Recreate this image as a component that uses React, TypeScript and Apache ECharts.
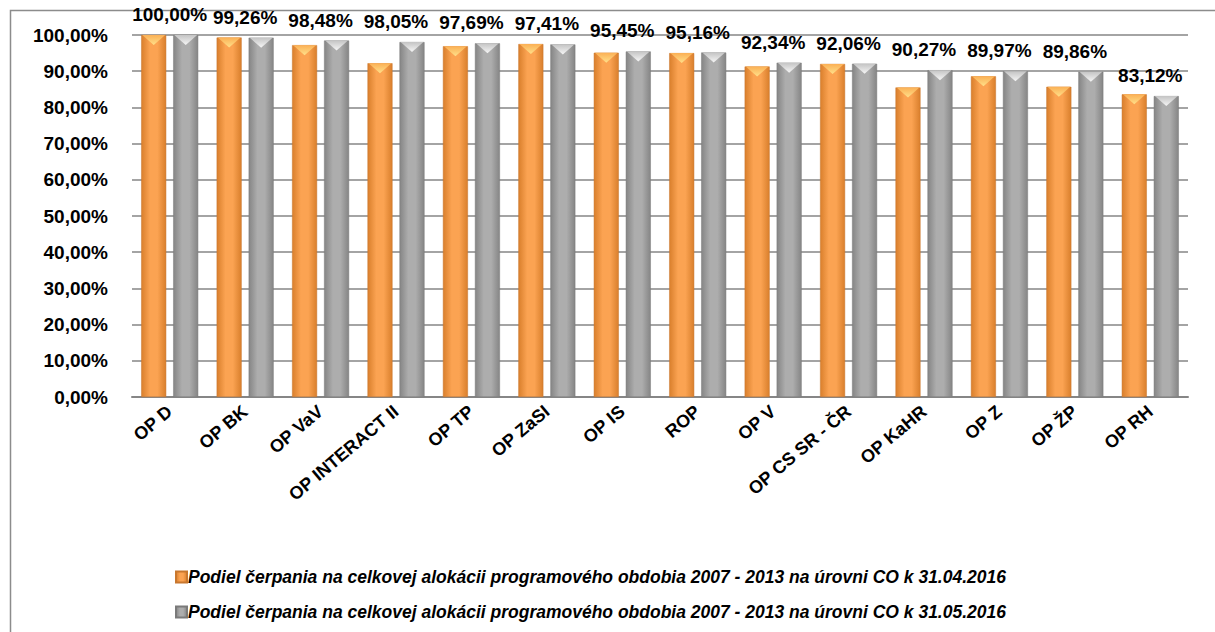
import React, { useEffect, useRef } from "react";
import * as echarts from "echarts";

const categories = [
  "OP D", "OP BK", "OP VaV", "OP INTERACT II", "OP TP", "OP ZaSI", "OP IS",
  "ROP", "OP V", "OP CS SR - ČR", "OP KaHR", "OP Z", "OP ŽP", "OP RH",
];
const seriesAprilName =
  "Podiel čerpania na celkovej alokácii programového obdobia 2007 - 2013 na úrovni CO k 31.04.2016";
const seriesMayName =
  "Podiel čerpania na celkovej alokácii programového obdobia 2007 - 2013 na úrovni CO k 31.05.2016";
const aprilValues = [100.0, 99.3, 97.2, 92.2, 96.9, 97.5, 95.1, 95.0, 91.3, 92.0, 85.5, 88.6, 85.7, 83.6];
const mayValues = [100.0, 99.26, 98.48, 98.05, 97.69, 97.41, 95.45, 95.16, 92.34, 92.06, 90.27, 89.97, 89.86, 83.12];
const yTicks = { min: 0, max: 100, interval: 10 };

const FONT = "'Liberation Sans Narrow', 'Liberation Sans', Arial, sans-serif";
const fmt = (v: number) => v.toFixed(2).replace(".", ",") + "%";

const hGrad = (edge: string, mid: string) =>
  new echarts.graphic.LinearGradient(0, 0, 1, 0, [
    { offset: 0, color: edge },
    { offset: 0.35, color: mid },
    { offset: 0.65, color: mid },
    { offset: 1, color: edge },
  ]);

export default function App() {
  const ref = useRef<HTMLDivElement>(null);
  useEffect(() => {
    if (!ref.current) return;
    const chart = echarts.init(ref.current, null, { renderer: "svg" });
    const BW = 25;
    const GAP = "28%";
    chart.setOption({
      animation: false,
      backgroundColor: "#ffffff",
      graphic: [
        {
          type: "rect",
          shape: { x: 10.5, y: 10.5, width: 1400, height: 800 },
          style: { fill: "none", stroke: "#8c8c8c", lineWidth: 1.5 },
          silent: true,
        },
      ],
      grid: { left: 132, right: 27, top: 35, bottom: 235, containLabel: false },
      legend: {
        data: [seriesAprilName, seriesMayName],
        orient: "vertical",
        left: 170,
        top: 563,
        itemWidth: 11,
        itemHeight: 11,
        itemGap: 17,
        icon: "rect",
        textStyle: {
          fontFamily: FONT,
          fontSize: 17.5,
          fontWeight: "bold",
          fontStyle: "italic",
          color: "#000",
          padding: [0, 0, 0, -4],
        },
      },
      xAxis: {
        type: "category",
        data: categories,
        axisTick: { show: false },
        axisLine: { lineStyle: { color: "#868686", width: 2 } },
        axisLabel: {
          rotate: 40,
          margin: 12,
          interval: 0,
          fontFamily: FONT,
          fontSize: 18,
          fontWeight: "bold",
          color: "#000",
        },
      },
      yAxis: {
        type: "value",
        min: yTicks.min,
        max: yTicks.max,
        interval: yTicks.interval,
        axisLine: { show: false },
        axisTick: { show: false },
        splitLine: { lineStyle: { color: "#868686", width: 1.5 } },
        axisLabel: {
          formatter: (v: number) => fmt(v),
          margin: 24,
          fontFamily: FONT,
          fontSize: 19,
          fontWeight: "bold",
          color: "#000",
        },
      },
      series: [
        {
          name: seriesAprilName,
          type: "bar",
          data: aprilValues,
          barWidth: BW,
          barGap: GAP,
          itemStyle: {
            color: hGrad("#d97f2c", "#fba352"),
            borderColor: "#c8772e",
            borderWidth: 0.5,
          },
        },
        {
          name: seriesMayName,
          type: "bar",
          data: mayValues,
          barWidth: BW,
          barGap: GAP,
          itemStyle: {
            color: hGrad("#858585", "#adadad"),
            borderColor: "#7a7a7a",
            borderWidth: 0.5,
          },
          label: {
            show: true,
            position: "top",
            distance: 11,
            offset: [-16, 0],
            formatter: (p: any) => fmt(p.value),
            fontFamily: FONT,
            fontSize: 19,
            fontWeight: "bold",
            color: "#000",
          },
        },
        {
          name: "topA",
          type: "pictorialBar",
          data: aprilValues,
          barWidth: BW,
          barGap: GAP,
          symbol: "triangle",
          symbolRotate: 180,
          symbolSize: [BW - 2, 10],
          symbolPosition: "end",
          z: 5,
          silent: true,
          itemStyle: {
            color: new echarts.graphic.LinearGradient(0, 0, 0, 1, [
              { offset: 0, color: "#ffe08a" },
              { offset: 1, color: "#fbb055" },
            ]),
          },
        },
        {
          name: "topB",
          type: "pictorialBar",
          data: mayValues,
          barWidth: BW,
          barGap: GAP,
          symbol: "triangle",
          symbolRotate: 180,
          symbolSize: [BW - 2, 10],
          symbolPosition: "end",
          z: 5,
          silent: true,
          itemStyle: {
            color: new echarts.graphic.LinearGradient(0, 0, 0, 1, [
              { offset: 0, color: "#f6f6f6" },
              { offset: 1, color: "#c4c4c4" },
            ]),
          },
        },
      ],
    });
    return () => chart.dispose();
  }, []);
  return (
    <div
      ref={ref}
      style={{ position: "fixed", left: 0, top: 0, width: 1215, height: 632 }}
    />
  );
}
